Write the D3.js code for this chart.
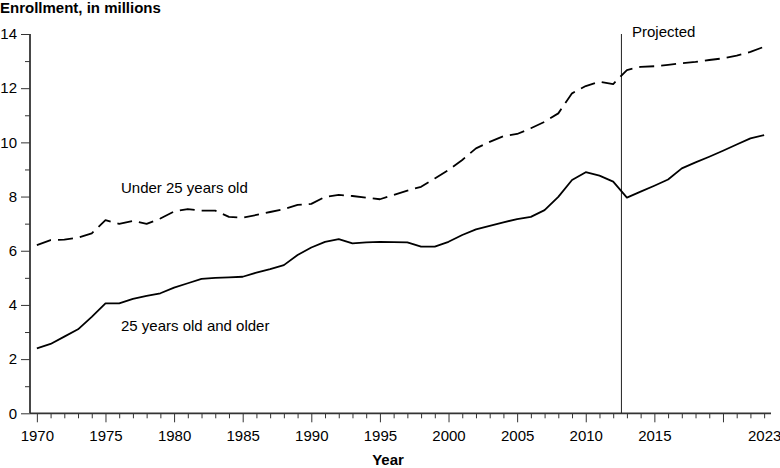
<!DOCTYPE html>
<html>
<head>
<meta charset="utf-8">
<script src="https://cdn.jsdelivr.net/npm/d3@7"></script>
<style>
  html, body { margin: 0; padding: 0; background: #fff; }
  svg { display: block; font-family: "Liberation Sans", Arial, Helvetica, sans-serif; }
</style>
</head>
<body>
<svg id="chart" width="780" height="468"></svg>
<script>
const years = d3.range(1970, 2024);
const under25 = [6.21, 6.39, 6.41, 6.48, 6.64, 7.13, 6.99, 7.10, 6.99, 7.19,
                 7.45, 7.54, 7.48, 7.48, 7.25, 7.22, 7.32, 7.43, 7.54, 7.69,
                 7.73, 7.99, 8.06, 8.02, 7.96, 7.90, 8.06, 8.22, 8.36, 8.67,
                 8.98, 9.35, 9.78, 10.02, 10.23, 10.31, 10.52, 10.76, 11.07, 11.81,
                 12.08, 12.24, 12.15, 12.67, 12.79, 12.81, 12.86, 12.92, 12.97, 13.04,
                 13.10, 13.20, 13.34, 13.53];
const over25 = [2.40, 2.56, 2.83, 3.10, 3.56, 4.06, 4.06, 4.22, 4.33, 4.43,
                4.64, 4.80, 4.96, 5.00, 5.02, 5.04, 5.19, 5.32, 5.47, 5.84,
                6.12, 6.33, 6.43, 6.27, 6.31, 6.33, 6.32, 6.31, 6.15, 6.15,
                6.33, 6.58, 6.79, 6.92, 7.05, 7.17, 7.25, 7.50, 7.99, 8.61,
                8.90, 8.77, 8.55, 7.96, 8.18, 8.40, 8.63, 9.04, 9.26, 9.47,
                9.69, 9.92, 10.15, 10.27];
const xLabelYears = [1970, 1975, 1980, 1985, 1990, 1995, 2000, 2005, 2010, 2015, 2023];
const yTicks = [0, 2, 4, 6, 8, 10, 12, 14];
const yMinorTicks = [1, 3, 5, 7, 9, 11, 13];
const projectionStart = 2012.6;
const seriesLabels = ["Under 25 years old", "25 years old and older"];

const svg = d3.select("#chart");
const x = d3.scaleLinear().domain([1969.5, 2023.5]).range([30, 771]);
const y = d3.scaleLinear().domain([0, 14]).range([413.3, 34]);
const axisColor = "#333";

// Y axis: minor ticks
const yMinor = svg.append("g").attr("transform", "translate(30,0)")
  .call(d3.axisLeft(y).tickValues(yMinorTicks).tickSize(5).tickFormat(""));
const yMajor = svg.append("g").attr("transform", "translate(30,0)")
  .call(d3.axisLeft(y).tickValues(yTicks).tickSize(9).tickPadding(4).tickFormat(d3.format("d")));
[yMinor, yMajor].forEach(g => {
  g.select(".domain").remove();
  g.selectAll("line").attr("stroke", axisColor).attr("stroke-width", 1);
});
yMajor.selectAll("text").attr("font-size", 15).attr("fill", "#000")
  .attr("font-family", "Liberation Sans, Arial, sans-serif");
svg.append("line").attr("x1", 30).attr("x2", 30).attr("y1", y(14)).attr("y2", y(0))
  .attr("stroke", axisColor).attr("stroke-width", 1.8);

// X axis
const xAxis = svg.append("g").attr("transform", `translate(0,${y(0)})`)
  .call(d3.axisBottom(x).tickValues(years).tickSize(5).tickPadding(12)
    .tickFormat(d => xLabelYears.includes(d) ? String(d) : ""));
xAxis.select(".domain").remove();
xAxis.selectAll(".tick line")
  .attr("y2", d => (d % 5 === 0 ? 9 : 5))
  .attr("stroke", axisColor).attr("stroke-width", 1);
xAxis.selectAll(".tick text").attr("font-size", 15).attr("fill", "#000")
  .attr("font-family", "Liberation Sans, Arial, sans-serif").attr("dy", "0.71em");
svg.append("line").attr("x1", 30).attr("x2", 771).attr("y1", y(0)).attr("y2", y(0))
  .attr("stroke", axisColor).attr("stroke-width", 1.8);

// Projection line
svg.append("line")
  .attr("x1", x(projectionStart)).attr("x2", x(projectionStart))
  .attr("y1", y(14)).attr("y2", y(0))
  .attr("stroke", "#222").attr("stroke-width", 1);

// Series lines
const line = d3.line().x((d, i) => x(years[i])).y(d => y(d));
svg.append("path").datum(under25).attr("d", line)
  .attr("fill", "none").attr("stroke", "#000").attr("stroke-width", 1.8)
  .attr("stroke-dasharray", "15,7").attr("stroke-linejoin", "round");
svg.append("path").datum(over25).attr("d", line)
  .attr("fill", "none").attr("stroke", "#000").attr("stroke-width", 1.8)
  .attr("stroke-linejoin", "round");

// Text labels
svg.append("text").attr("x", 0).attr("y", 13).attr("font-size", 15)
  .attr("font-weight", "bold").text("Enrollment, in millions");
svg.append("text").attr("x", 388).attr("y", 465).attr("font-size", 15)
  .attr("font-weight", "bold").attr("text-anchor", "middle").text("Year");
svg.append("text").attr("x", 121).attr("y", 193).attr("font-size", 15).text(seriesLabels[0]);
svg.append("text").attr("x", 121).attr("y", 330.5).attr("font-size", 15).text(seriesLabels[1]);
svg.append("text").attr("x", 632).attr("y", 37).attr("font-size", 15).text("Projected");
</script>
</body>
</html>
